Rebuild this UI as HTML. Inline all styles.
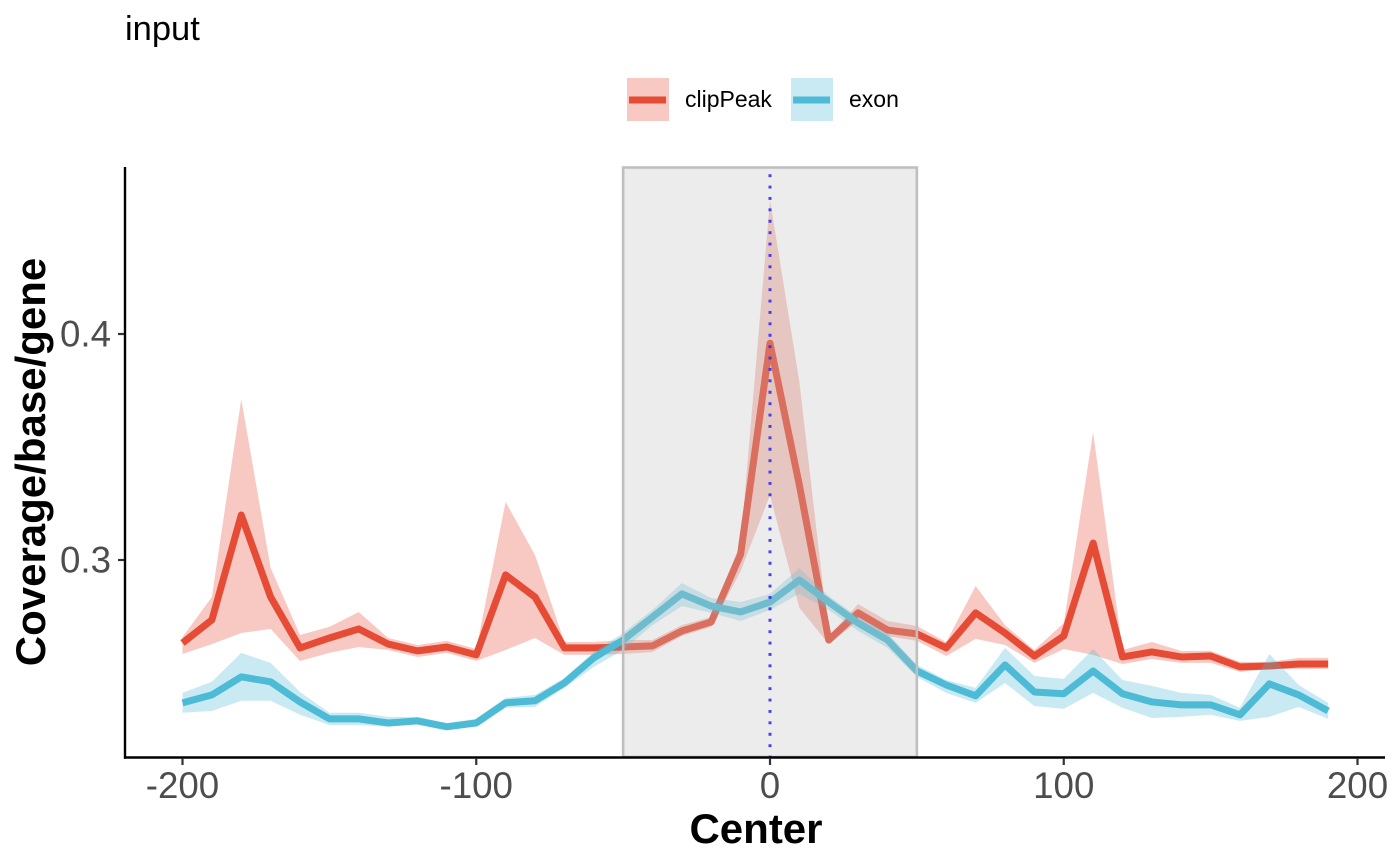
<!DOCTYPE html>
<html lang="en">
<head>
<meta charset="utf-8">
<title>input coverage chart</title>
<style>
  html, body { margin: 0; padding: 0; background: #fff; }
  #chart { display: block; width: 1400px; height: 866px; font-family: "Liberation Sans", Arial, sans-serif; }
</style>
</head>
<body>
<svg id="chart" xmlns="http://www.w3.org/2000/svg" width="1400" height="866" viewBox="0 0 1400 866">
  <g id="plot"></g>
  <g id="axes"></g>
  <text x="125" y="40" font-size="34.5" fill="#000">input</text>
  <text x="756" y="843" font-size="42" font-weight="bold" text-anchor="middle" fill="#000">Center</text>
  <text transform="translate(45,462) rotate(-90)" font-size="42" font-weight="bold" text-anchor="middle" fill="#000">Coverage/base/gene</text>
  <g>
    <g>
      <rect x="627" y="78" width="42" height="43" fill="#E64B35" fill-opacity="0.3"></rect>
      <line x1="629" x2="666" y1="100" y2="100" stroke="#E64B35" stroke-width="7"></line>
      <text x="685" y="107" font-size="23" fill="#000">clipPeak</text>
    </g>
    <g>
      <rect x="791" y="78" width="42" height="43" fill="#4DBBD5" fill-opacity="0.3"></rect>
      <line x1="793" x2="830" y1="100" y2="100" stroke="#4DBBD5" stroke-width="7"></line>
      <text x="849" y="107" font-size="23" fill="#000">exon</text>
    </g>
  </g>
</svg>
<script>
const centers = [-200,-190,-180,-170,-160,-150,-140,-130,-120,-110,-100,-90,-80,-70,-60,-50,-40,-30,-20,-10,0,10,20,30,40,50,60,70,80,90,100,110,120,130,140,150,160,170,180,190];
const clipPeakMean = [.2633,.2735,.3199,.2836,.2611,.2655,.2695,.2628,.2598,.2615,.2580,.2934,.2836,.2611,.2611,.2615,.2620,.2686,.2726,.3026,.3959,.3331,.2646,.2766,.2690,.2673,.2611,.2766,.2677,.2575,.2664,.3075,.2571,.2593,.2571,.2575,.2527,.2531,.2540,.2540];
const clipPeakUpper = [.2659,.2836,.3712,.2965,.2668,.2704,.2770,.2655,.2624,.2642,.2606,.3257,.3022,.2637,.2637,.2646,.2646,.2712,.2748,.3075,.4593,.3788,.2664,.2805,.2730,.2708,.2637,.2885,.2712,.2602,.2721,.3566,.2602,.2637,.2598,.2598,.2549,.2549,.2567,.2567];
const clipPeakLower = [.2584,.2628,.2677,.2695,.2553,.2589,.2615,.2602,.2571,.2589,.2553,.2602,.2655,.2580,.2580,.2584,.2593,.2664,.2704,.2951,.3287,.2788,.2628,.2730,.2664,.2642,.2575,.2651,.2624,.2545,.2606,.2580,.2540,.2562,.2545,.2545,.2505,.2518,.2518,.2518];
const exonMean = [.2368,.2403,.2483,.2461,.2372,.2297,.2297,.2279,.2288,.2262,.2279,.2368,.2377,.2456,.2567,.2646,.2748,.2850,.2796,.2770,.2814,.2911,.2814,.2721,.2646,.2509,.2447,.2399,.2536,.2416,.2408,.2509,.2408,.2372,.2359,.2359,.2315,.2452,.2403,.2332];
const exonUpper = [.2412,.2461,.2589,.2545,.2416,.2324,.2324,.2306,.2306,.2279,.2297,.2390,.2403,.2478,.2593,.2677,.2779,.2898,.2832,.2814,.2850,.2964,.2841,.2748,.2677,.2536,.2469,.2434,.2611,.2487,.2474,.2606,.2469,.2443,.2412,.2403,.2346,.2584,.2447,.2368];
const exonLower = [.2324,.2332,.2377,.2377,.2315,.2270,.2270,.2262,.2275,.2253,.2262,.2346,.2350,.2434,.2527,.2602,.2712,.2796,.2766,.2730,.2779,.2850,.2779,.2686,.2611,.2483,.2412,.2368,.2456,.2354,.2341,.2412,.2346,.2301,.2306,.2315,.2288,.2306,.2350,.2297];
const xTickLabels = [-200,-100,0,100,200];
const yTickLabels = [0.3,0.4];
const regionStart = -50;
const regionEnd = 50;
const centerMark = 0;

const NS = 'http://www.w3.org/2000/svg';
const xScale = c => 770 + c * 2.9375;
const yScale = v => 334 + (0.4 - v) * 2260;
const plot = document.getElementById('plot');
const axes = document.getElementById('axes');

function make(parent, tag, attrs) {
  const el = document.createElementNS(NS, tag);
  for (const k in attrs) el.setAttribute(k, attrs[k]);
  parent.appendChild(el);
  return el;
}
function linePoints(values) {
  return values.map((v, i) => xScale(centers[i]).toFixed(2) + ',' + yScale(v).toFixed(2)).join(' ');
}
function bandPoints(upper, lower) {
  const top = upper.map((v, i) => xScale(centers[i]).toFixed(2) + ',' + yScale(v).toFixed(2));
  const bottom = lower.map((v, i) => xScale(centers[i]).toFixed(2) + ',' + yScale(v).toFixed(2)).reverse();
  return top.concat(bottom).join(' ');
}

const clipRibbon = make(plot, 'polygon', { points: bandPoints(clipPeakUpper, clipPeakLower), fill: '#E64B35', 'fill-opacity': 0.3 });


const clipLine = make(plot, 'polyline', { points: linePoints(clipPeakMean), fill: 'none', stroke: '#E64B35', 'stroke-width': 7, 'stroke-linejoin': 'round', 'stroke-linecap': 'butt' });


const exonRibbon = make(plot, 'polygon', { points: bandPoints(exonUpper, exonLower), fill: '#4DBBD5', 'fill-opacity': 0.3 });


const exonLine = make(plot, 'polyline', { points: linePoints(exonMean), fill: 'none', stroke: '#4DBBD5', 'stroke-width': 7, 'stroke-linejoin': 'round', 'stroke-linecap': 'butt' });



const region = make(plot, 'rect', { x: xScale(regionStart), y: 167.5, width: xScale(regionEnd) - xScale(regionStart), height: 589.5, fill: '#bfbfbf', 'fill-opacity': 0.3, stroke: '#bfbfbf', 'stroke-width': 2.6 });



const centerLine = make(plot, 'line', { x1: xScale(centerMark), x2: xScale(centerMark), y1: 174.2, y2: 757, stroke: '#3030f5', 'stroke-width': 3, 'stroke-dasharray': '2.9 8.5', 'stroke-opacity': 0.9 });



const yAxisLine = make(axes, 'line', { x1: 125, x2: 125, y1: 167, y2: 758.7, stroke: '#000', 'stroke-width': 2.4 });


const xAxisLine = make(axes, 'line', { x1: 124, x2: 1385, y1: 757.5, y2: 757.5, stroke: '#000', 'stroke-width': 2.4 });



xTickLabels.forEach(t => {
  const tick = make(axes, 'line', { x1: xScale(t), x2: xScale(t), y1: 758.7, y2: 765, stroke: '#333', 'stroke-width': 2.2 });
  
  
  const label = make(axes, 'text', { x: xScale(t), y: 798, 'font-size': 36.7, 'text-anchor': 'middle', fill: '#4d4d4d' });
  
  
  label.textContent = String(t);
});
yTickLabels.forEach(t => {
  const tick = make(axes, 'line', { x1: 118, x2: 124, y1: yScale(t), y2: yScale(t), stroke: '#333', 'stroke-width': 2.2 });
  
  
  const label = make(axes, 'text', { x: 111, y: yScale(t) + 12.5, 'font-size': 36.7, 'text-anchor': 'end', fill: '#4d4d4d' });
  
  
  label.textContent = t.toFixed(1);
});
</script>
</body>
</html>
